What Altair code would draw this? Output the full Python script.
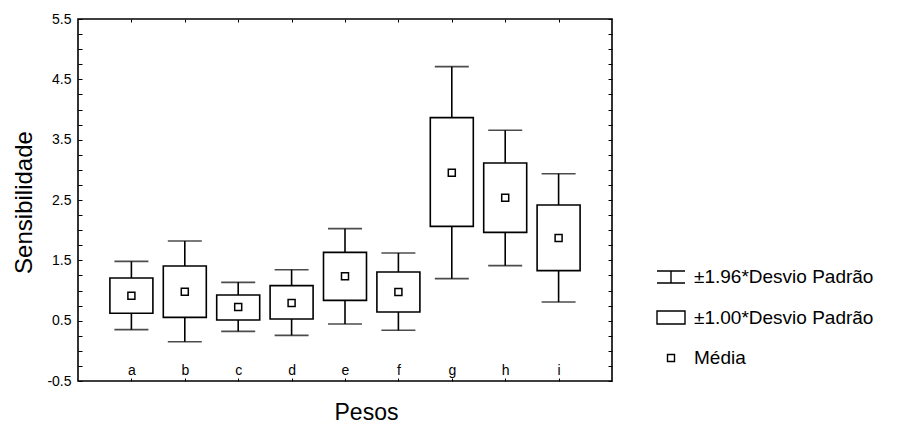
import altair as alt
import pandas as pd

# ---- data ----
cats = ["a", "b", "c", "d", "e", "f", "g", "h", "i"]
means = [0.914, 0.980, 0.726, 0.793, 1.235, 0.975, 2.953, 2.539, 1.870]
box_lo = [0.622, 0.555, 0.511, 0.527, 0.837, 0.643, 2.063, 1.964, 1.329]
box_hi = [1.207, 1.406, 0.925, 1.080, 1.632, 1.306, 3.865, 3.113, 2.417]
whisk_lo = [0.351, 0.151, 0.323, 0.257, 0.445, 0.340, 1.196, 1.412, 0.809]
whisk_hi = [1.483, 1.820, 1.135, 1.345, 2.025, 1.621, 4.710, 3.655, 2.936]
y_ticks = [-0.5, -0.25, 0.0, 0.25, 0.5, 0.75, 1.0, 1.25, 1.5, 1.75, 2.0, 2.25,
           2.5, 2.75, 3.0, 3.25, 3.5, 3.75, 4.0, 4.25, 4.5, 4.75, 5.0, 5.25, 5.5]
legend_labels = ["±1.96*Desvio Padrão", "±1.00*Desvio Padrão", "Média"]
mean_label = "Média"

df = pd.DataFrame({
    "cat": cats, "mean": means, "blo": box_lo, "bhi": box_hi,
    "wlo": whisk_lo, "whi": whisk_hi, "kind": [mean_label] * len(cats),
})

FONT = "Liberation Sans"
LW = 1.6

xscale = alt.Scale(type="point", padding=1, domain=cats)
yscale = alt.Scale(domain=[-0.5, 5.5], nice=False, zero=False)

base = alt.Chart(df)

x_bottom = alt.Axis(orient="bottom", offset=-3, tickSize=3, domain=False,
                    labelPadding=-11, labelBaseline="middle", labelAngle=0,
                    labelFontSize=14, title="Pesos", titleFontSize=23,
                    titleFontWeight="normal", titleX=288, titleY=41,
                    titleBaseline="alphabetic")
y_left = alt.Axis(orient="left", values=y_ticks, offset=-4, tickSize=4,
                  domain=False, labelPadding=7, labelFontSize=14,
                  labelOverlap=False, labelFlush=False,
                  labelExpr="abs((datum.value + 0.5) % 1) < 0.001 ? '' + datum.value : ''",
                  title="Sensibilidade", titleFontSize=24, titleFontWeight="normal",
                  titleX=-51, titleY=183, titleBaseline="alphabetic", titleAngle=270)
x_top = alt.Axis(orient="top", offset=-3, tickSize=3, domain=False,
                 labels=False, title=None)
y_right = alt.Axis(orient="right", values=y_ticks, offset=-4, tickSize=4,
                   domain=False, labels=False, title=None)

whisk = base.mark_rule(color="black", strokeWidth=LW).encode(
    x=alt.X("cat:N", scale=xscale, axis=x_bottom),
    y=alt.Y("wlo:Q", scale=yscale, axis=y_left),
    y2="whi:Q",
)

box = base.mark_bar(size=43, fill="white", stroke="black", strokeWidth=LW).encode(
    x=alt.X("cat:N", scale=xscale, axis=None),
    y=alt.Y("blo:Q", scale=yscale, axis=None),
    y2="bhi:Q",
)

cap_hi = base.mark_tick(size=34, thickness=LW, color="black").encode(
    x=alt.X("cat:N", scale=xscale, axis=None),
    y=alt.Y("whi:Q", scale=yscale, axis=None),
)
cap_lo = base.mark_tick(size=34, thickness=LW, color="black").encode(
    x=alt.X("cat:N", scale=xscale, axis=None),
    y=alt.Y("wlo:Q", scale=yscale, axis=None),
)

ibar = "M-1,-0.43H1M-1,0.43H1M0,-0.43V0.43"
rect = "M-1,-0.46H1V0.46H-1Z"
sq = "M-0.25,-0.25H0.25V0.25H-0.25Z"

mean = base.mark_point(filled=False, color="black", strokeWidth=1.5, size=784, opacity=1).encode(
    x=alt.X("cat:N", scale=xscale, axis=x_top),
    y=alt.Y("mean:Q", scale=yscale, axis=y_right),
    shape=alt.Shape("kind:N",
                    scale=alt.Scale(domain=legend_labels, range=[ibar, rect, sq]),
                    legend=alt.Legend(title=None, orient="none", legendX=578, legendY=243,
                                      symbolSize=784, symbolStrokeWidth=1.4,
                                      symbolStrokeColor="black", symbolFillColor="white",
                                      labelFontSize=19, labelFont=FONT, labelColor="black",
                                      labelLimit=400, labelOffset=8, rowPadding=15.5,
                                      padding=0)),
)

chart = alt.layer(whisk, box, cap_hi, cap_lo, mean).resolve_axis(
    x="independent", y="independent"
).properties(
    width=534, height=362,
    padding={"left": 70, "top": 11, "right": 275, "bottom": 42},
    autosize=alt.AutoSizeParams(type="none"),
    background="white",
).configure_view(
    stroke="black", strokeWidth=LW
).configure_axis(
    labelFont=FONT, titleFont=FONT, labelColor="black", titleColor="black",
    tickColor="black", tickWidth=1, grid=False,
)

chart.save("out.html", embed_options={"renderer": "svg", "actions": False})
